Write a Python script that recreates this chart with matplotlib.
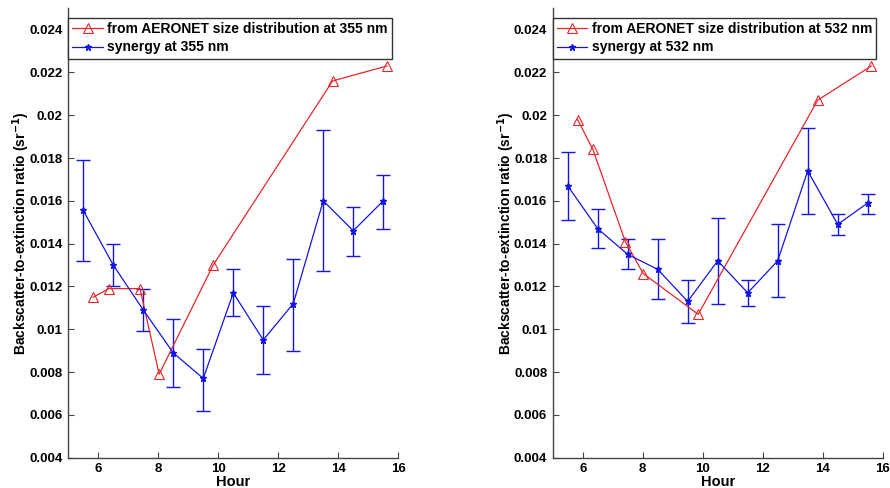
import matplotlib
matplotlib.use("Agg")
import matplotlib.pyplot as plt
from matplotlib.lines import Line2D

plt.rcParams['font.family'] = ['Liberation Sans', 'DejaVu Sans']
plt.rcParams['font.weight'] = 'bold'

# AERONET-derived backscatter-to-extinction ratio
aero_hours_355 = [5.83, 6.36, 7.39, 8.03, 9.83, 13.81, 15.62]
aero_vals_355 = [0.0115, 0.0119, 0.0119, 0.0079, 0.0130, 0.0216, 0.0223]

aero_hours_532 = [5.83, 6.34, 7.42, 8.02, 9.85, 13.83, 15.62]
aero_vals_532 = [0.0198, 0.0184, 0.0141, 0.0126, 0.0107, 0.0207, 0.0223]

# Synergy retrievals with their uncertainty ranges
syn_hours = [5.5, 6.5, 7.5, 8.5, 9.5, 10.5, 11.5, 12.5, 13.5, 14.5, 15.5]

syn_vals_355 = [0.01555, 0.0130, 0.0109, 0.0089, 0.0077, 0.0117, 0.0095, 0.0112, 0.0160, 0.0146, 0.0160]
syn_upper_355 = [0.0179, 0.0140, 0.0119, 0.0105, 0.0091, 0.0128, 0.0111, 0.0133, 0.0193, 0.0157, 0.0172]
syn_lower_355 = [0.0132, 0.0120, 0.0099, 0.0073, 0.0062, 0.0106, 0.0079, 0.0090, 0.0127, 0.0134, 0.0147]

syn_vals_532 = [0.0167, 0.0147, 0.0135, 0.0128, 0.0113, 0.0132, 0.0117, 0.0132, 0.0174, 0.0149, 0.0159]
syn_upper_532 = [0.0183, 0.0156, 0.0142, 0.0142, 0.0123, 0.0152, 0.0123, 0.0149, 0.0194, 0.0154, 0.0163]
syn_lower_532 = [0.0151, 0.0138, 0.0128, 0.0114, 0.0103, 0.0112, 0.0111, 0.0115, 0.0154, 0.0144, 0.0154]

x_ticks = [6, 8, 10, 12, 14, 16]
y_ticks = [0.004, 0.006, 0.008, 0.01, 0.012, 0.014, 0.016, 0.018, 0.02, 0.022, 0.024]
y_tick_labels = ['0.004', '0.006', '0.008', '0.01', '0.012', '0.014', '0.016',
                 '0.018', '0.02', '0.022', '0.024']

RED = '#e8262a'
BLUE = '#1414e6'

fig = plt.figure(figsize=(8.9, 4.88), dpi=100)
ax_left = fig.add_axes([0.0767, 0.0621, 0.3708, 0.9211])
ax_right = fig.add_axes([0.6210, 0.0621, 0.3708, 0.9211])

panels = [
    (ax_left, aero_hours_355, aero_vals_355, syn_vals_355, syn_upper_355, syn_lower_355, '355'),
    (ax_right, aero_hours_532, aero_vals_532, syn_vals_532, syn_upper_532, syn_lower_532, '532'),
]

for ax, ah, av, sv, su, sl, wl in panels:
    ax.plot(ah, av, color=RED, lw=0.9, marker='^', ms=7, mfc='none', mec=RED, mew=0.8, zorder=3)
    yerr = [[v - lo for v, lo in zip(sv, sl)], [hi - v for v, hi in zip(sv, su)]]
    ax.errorbar(syn_hours, sv, yerr=yerr, fmt='none', ecolor=BLUE, elinewidth=1.0,
                capsize=5, capthick=1.0, zorder=2)
    ax.plot(syn_hours, sv, color=BLUE, lw=0.9, marker='*', ms=5, mfc=BLUE, mec=BLUE, zorder=4)

    ax.set_xlim(5, 16)
    ax.set_ylim(0.004, 0.025)
    ax.set_xticks(x_ticks)
    ax.set_xticklabels([str(t) for t in x_ticks], fontsize=9.5, fontweight='bold')
    ax.set_yticks(y_ticks)
    ax.set_yticklabels(y_tick_labels, fontsize=9.5, fontweight='bold')
    ax.tick_params(direction='in', length=4, width=0.8, color='#444444', pad=4)
    for side in ('top', 'right'):
        ax.spines[side].set_visible(False)
    for side in ('left', 'bottom'):
        ax.spines[side].set_color('#444444')
        ax.spines[side].set_linewidth(1.0)

    ax.set_xlabel('Hour', fontsize=10.5, fontweight='bold', labelpad=0)
    ax.set_ylabel('Backscatter-to-extinction ratio (sr$^{\\mathbf{-1}}$)', fontsize=10,
                  fontweight='bold', labelpad=-2)

    handles = [
        Line2D([], [], color=RED, lw=0.9, marker='^', ms=7, mfc='none', mec=RED, mew=0.8),
        Line2D([], [], color=BLUE, lw=0.9, marker='*', ms=5, mfc=BLUE, mec=BLUE),
    ]
    labels = [f'from AERONET size distribution at {wl} nm', f'synergy at {wl} nm']
    leg = ax.legend(handles, labels, loc='upper left', bbox_to_anchor=(0.0, 0.978),
                    borderaxespad=0, fancybox=False, framealpha=1, edgecolor='#333333',
                    handlelength=2.2, handletextpad=0.3, borderpad=0.3, labelspacing=0.3,
                    prop={'weight': 'bold', 'size': 10})
    leg.get_frame().set_linewidth(1.0)

fig.savefig('out.png', dpi=100)
